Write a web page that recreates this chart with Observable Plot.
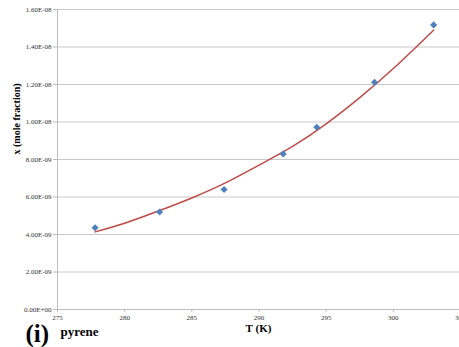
<!DOCTYPE html>
<html>
<head>
<meta charset="utf-8">
<script src="https://cdn.jsdelivr.net/npm/d3@7"></script>
<script src="https://cdn.jsdelivr.net/npm/@observablehq/plot@0.6"></script>
<style>
  html, body { margin: 0; padding: 0; background: #fff; }
  #chart { width: 459px; height: 347px; overflow: hidden; }
  #chart svg, #chart svg text { font-family: "Liberation Serif", "DejaVu Serif", serif !important; }
</style>
</head>
<body>
<div id="chart"></div>
<script>
// Measured points
const temps = [277.8, 282.6, 287.4, 291.8, 294.3, 298.6, 303.0];
const moleFrac = [4.36e-9, 5.20e-9, 6.40e-9, 8.30e-9, 9.72e-9, 1.212e-8, 1.518e-8];
// Fitted trend curve
const fitT = [277.8, 280.0, 282.5, 285.0, 287.5, 290.0, 292.5, 295.0, 297.5, 300.0, 303.0];
const fitX = [4.14e-9, 4.60e-9, 5.25e-9, 5.95e-9, 6.75e-9, 7.70e-9, 8.70e-9, 9.90e-9, 1.13e-8, 1.285e-8, 1.49e-8];
const xTicks = [275, 280, 285, 290, 295, 300, 305];
const yTicks = [0, 2e-9, 4e-9, 6e-9, 8e-9, 1e-8, 1.2e-8, 1.4e-8, 1.6e-8];

const pts = temps.map((t, i) => ({t, x: moleFrac[i]}));
const fit = fitT.map((t, i) => ({t, x: fitX[i]}));

const fmt = v => v.toExponential(2).toUpperCase().replace(/E([+-])(\d)$/, "E$10$2");
const serif = "Liberation Serif, DejaVu Serif, serif";

const chart = Plot.plot({
  width: 459,
  height: 347,
  marginLeft: 57,
  marginRight: 0,
  marginTop: 9,
  marginBottom: 38,
  style: {background: "#fff", overflow: "visible"},
  x: {domain: [275, 305], range: [57, 460]},
  y: {domain: [0, 1.6e-8]},
  marks: [
    Plot.gridY(yTicks, {stroke: "#c8c8c8", strokeOpacity: 1, strokeWidth: 1}),
    Plot.ruleX([275], {stroke: "#bdbdbd"}),
    Plot.ruleY([0], {stroke: "#bdbdbd"}),
    Plot.axisY({ticks: yTicks, tickFormat: fmt, tickSize: 4, tickPadding: 2, stroke: "#bdbdbd",
      fontSize: 7, fill: "#333", label: null, fontFamily: serif}),
    Plot.axisX({ticks: xTicks, tickFormat: d => String(d), tickSize: 3, tickPadding: 3, stroke: "#bdbdbd",
      fontSize: 7, fill: "#333", label: null, fontFamily: serif}),
    Plot.line(fit, {x: "t", y: "x", stroke: "#be4b48", strokeWidth: 1.5, curve: "natural"}),
    Plot.dot(pts, {x: "t", y: "x", symbol: "diamond2", r: 3.2, fill: "#4f81bd", stroke: "none"}),
    Plot.text(["x (mole fraction)"], {frameAnchor: "left", dx: -41, dy: -5, rotate: -90, text: d => d,
      fontWeight: "bold", fontSize: 10, fill: "#000", fontFamily: serif}),
    Plot.text(["T (K)"], {frameAnchor: "bottom", dy: 22, text: d => d,
      fontWeight: "bold", fontSize: 11, fill: "#000", fontFamily: serif}),
    Plot.text(["(i)"], {frameAnchor: "bottom-left", dx: -32, dy: 32, textAnchor: "start", text: d => d,
      fontWeight: "bold", fontSize: 25, fill: "#000", fontFamily: serif, lineAnchor: "bottom"}),
    Plot.text(["pyrene"], {frameAnchor: "bottom-left", dx: 3, dy: 26, textAnchor: "start", text: d => d,
      fontWeight: "bold", fontSize: 13, fill: "#000", fontFamily: serif, lineAnchor: "bottom"})
  ]
});

document.getElementById("chart").appendChild(chart);
</script>
</body>
</html>
